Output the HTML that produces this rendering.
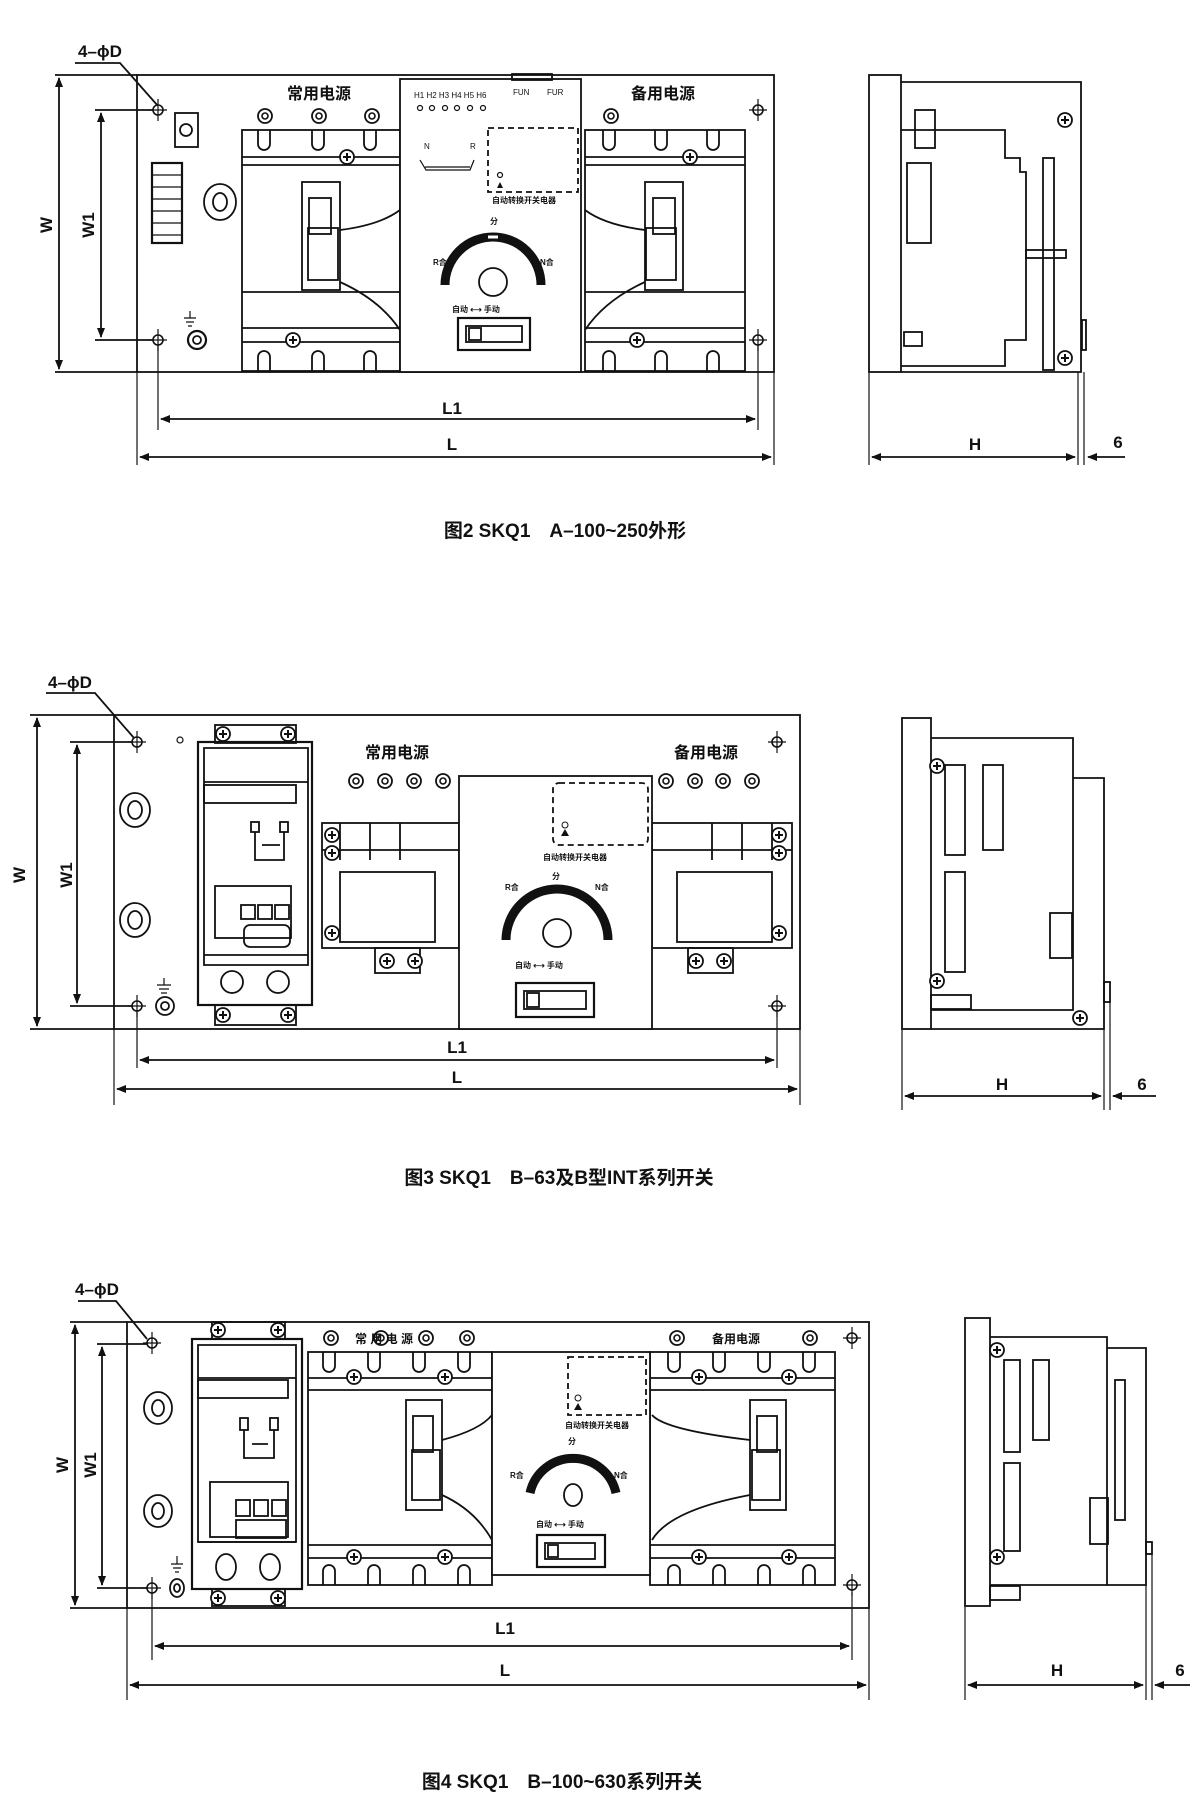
<!DOCTYPE html>
<html><head><meta charset="utf-8"><style>
html,body{margin:0;padding:0;background:#fff}
svg{display:block}
text{font-family:"Liberation Sans","Noto Sans CJK SC",sans-serif;fill:#111}
</style></head><body>
<svg width="1200" height="1794" viewBox="0 0 1200 1794" xmlns="http://www.w3.org/2000/svg">
<defs>
<marker id="a" markerWidth="10" markerHeight="8" refX="9" refY="4" orient="auto-start-reverse" markerUnits="userSpaceOnUse"><path d="M0,0 L10,4 L0,8 z" fill="#111"/></marker>
<g id="scr"><circle r="7" fill="#fff" stroke="#111" stroke-width="1.8"/><path d="M-4,0H4M0,-4V4" stroke="#111" stroke-width="2"/></g>
<g id="hole"><circle r="5" fill="#fff" stroke="#111" stroke-width="1.6"/><path d="M-9,0H9M0,-11V11" stroke="#111" stroke-width="1.2"/></g>
<g id="ring"><circle r="7" fill="#fff" stroke="#111" stroke-width="1.8"/><circle r="3" fill="none" stroke="#111" stroke-width="1.6"/></g>
</defs>
<g fill="none" stroke="#111" stroke-width="1.8">

<!-- ================= DIAGRAM 1 ================= -->
<rect x="137" y="75" width="637" height="297"/>
<line x1="55" y1="75" x2="137" y2="75"/>
<line x1="55" y1="372" x2="137" y2="372"/>
<line x1="59" y1="78" x2="59" y2="369" marker-start="url(#a)" marker-end="url(#a)"/>
<line x1="95" y1="110" x2="158" y2="110"/><line x1="95" y1="340" x2="158" y2="340"/>
<line x1="101" y1="113" x2="101" y2="337" marker-start="url(#a)" marker-end="url(#a)"/>
<path d="M75,63 H120 L158,106"/>
<line x1="137" y1="372" x2="137" y2="465" stroke-width="1.2"/>
<line x1="774" y1="372" x2="774" y2="465" stroke-width="1.2"/>
<line x1="158" y1="345" x2="158" y2="430" stroke-width="1.2"/>
<line x1="758" y1="345" x2="758" y2="430" stroke-width="1.2"/>
<line x1="161" y1="419" x2="755" y2="419" marker-start="url(#a)" marker-end="url(#a)"/>
<line x1="140" y1="457" x2="771" y2="457" marker-start="url(#a)" marker-end="url(#a)"/>
<rect x="242" y="130" width="158" height="241"/>
<rect x="585" y="130" width="160" height="241"/>
<path d="M242,157H400M242,165H400M242,292H400M242,328H400M242,342H400"/>
<path d="M585,157H745M585,165H745M585,292H745M585,328H745M585,342H745"/>
<path d="M340,230 Q380,225 400,210M340,282 Q380,300 400,330"/>
<path d="M645,230 Q605,225 585,210M645,282 Q605,300 585,330"/>
<rect x="302" y="182" width="38" height="108"/><rect x="309" y="198" width="22" height="36"/><rect x="308" y="228" width="30" height="52"/>
<rect x="645" y="182" width="38" height="108"/><rect x="653" y="198" width="22" height="36"/><rect x="646" y="228" width="30" height="52"/>
<path d="M258,130v14a6,6 0 0 0 12,0v-14M312,130v14a6,6 0 0 0 12,0v-14M364,130v14a6,6 0 0 0 12,0v-14"/>
<path d="M603,130v14a6,6 0 0 0 12,0v-14M655,130v14a6,6 0 0 0 12,0v-14M707,130v14a6,6 0 0 0 12,0v-14"/>
<path d="M258,371v-14a6,6 0 0 1 12,0v14M312,371v-14a6,6 0 0 1 12,0v14M364,371v-14a6,6 0 0 1 12,0v14"/>
<path d="M603,371v-14a6,6 0 0 1 12,0v14M655,371v-14a6,6 0 0 1 12,0v14M707,371v-14a6,6 0 0 1 12,0v14"/>
<rect x="400" y="79" width="181" height="293" fill="#fff"/>
<rect x="512" y="74" width="40" height="6"/>
<rect x="488" y="128" width="90" height="64" stroke-dasharray="6,4"/>
<path d="M420,160 L426,170 H470 L474,160M425,167 H470" stroke-width="1.2"/>
<rect x="458" y="318" width="72" height="32" stroke-width="2.2"/>
<rect x="466" y="326" width="56" height="16"/><rect x="469" y="328" width="12" height="12"/>
<circle cx="493" cy="282" r="14"/>
<path d="M445,285 A48,48 0 0 1 541,285" stroke-width="9"/>
<path d="M488,237h10" stroke="#fff" stroke-width="3"/>
<rect x="175" y="113" width="23" height="34"/><circle cx="186" cy="130" r="6"/>
<rect x="152" y="163" width="30" height="80" stroke-width="2.2"/>
<path d="M152,175H182M152,187H182M152,199H182M152,211H182M152,223H182M152,235H182" stroke-width="1.2"/>
<ellipse cx="220" cy="202" rx="16" ry="18"/><ellipse cx="220" cy="202" rx="7" ry="9"/>
<circle cx="197" cy="340" r="9" stroke-width="2.2"/><circle cx="197" cy="340" r="4"/>
<path d="M190,311V318M184,318H196M186,322H194M188,326H192" stroke-width="1.2"/>
<rect x="869" y="75" width="32" height="297"/>
<path d="M901,82 H1081 V372 H901"/>
<path d="M901,130 H1005 V158 H1020 V172 H1026 V340 H1005 V366 H901"/>
<rect x="1043" y="158" width="11" height="212"/>
<rect x="1026" y="250" width="40" height="8"/>
<rect x="915" y="110" width="20" height="38"/>
<rect x="907" y="163" width="24" height="80"/>
<rect x="904" y="332" width="18" height="14"/>
<rect x="1082" y="320" width="4" height="30"/>
<line x1="869" y1="372" x2="869" y2="465" stroke-width="1.2"/>
<line x1="1078" y1="372" x2="1078" y2="465" stroke-width="1.2"/>
<line x1="1084" y1="372" x2="1084" y2="465" stroke-width="1.2"/>
<line x1="872" y1="457" x2="1075" y2="457" marker-start="url(#a)" marker-end="url(#a)"/>
<line x1="1125" y1="457" x2="1088" y2="457" marker-end="url(#a)"/>

<!-- ================= DIAGRAM 2 ================= -->
<rect x="114" y="715" width="686" height="314"/>
<line x1="30" y1="715" x2="114" y2="715"/><line x1="30" y1="1029" x2="114" y2="1029"/>
<line x1="37" y1="718" x2="37" y2="1026" marker-start="url(#a)" marker-end="url(#a)"/>
<line x1="70" y1="742" x2="137" y2="742"/><line x1="70" y1="1006" x2="137" y2="1006"/>
<line x1="77" y1="745" x2="77" y2="1003" marker-start="url(#a)" marker-end="url(#a)"/>
<path d="M46,693 H95 L134,738"/>
<line x1="114" y1="1029" x2="114" y2="1105" stroke-width="1.2"/>
<line x1="800" y1="1029" x2="800" y2="1105" stroke-width="1.2"/>
<line x1="137" y1="1012" x2="137" y2="1068" stroke-width="1.2"/>
<line x1="777" y1="1012" x2="777" y2="1068" stroke-width="1.2"/>
<line x1="140" y1="1060" x2="774" y2="1060" marker-start="url(#a)" marker-end="url(#a)"/>
<line x1="117" y1="1089" x2="797" y2="1089" marker-start="url(#a)" marker-end="url(#a)"/>
<rect x="215" y="725" width="81" height="18"/><rect x="215" y="1005" width="81" height="20"/>
<rect x="198" y="742" width="114" height="263" stroke-width="2.2"/>
<path d="M204,748H308V965H204Z"/>
<path d="M204,782H308M204,955H308"/>
<rect x="204" y="785" width="92" height="18"/>
<rect x="215" y="886" width="76" height="52"/><rect x="241" y="905" width="14" height="14"/><rect x="258" y="905" width="14" height="14"/><rect x="275" y="905" width="14" height="14"/>
<rect x="244" y="925" width="46" height="22" rx="6"/>
<rect x="251" y="822" width="8" height="10"/><rect x="280" y="822" width="8" height="10"/>
<path d="M255,832V860H284V832M262,845h18"/>
<circle cx="232" cy="982" r="11"/><circle cx="278" cy="982" r="11"/>
<rect x="322" y="823" width="137" height="125"/>
<rect x="340" y="872" width="95" height="70"/>
<path d="M340,823V860M370,823V860M400,823V860M322,850H459"/>
<rect x="375" y="948" width="45" height="25"/>
<rect x="652" y="823" width="140" height="125"/>
<rect x="677" y="872" width="95" height="70"/>
<path d="M712,823V860M742,823V860M772,823V860M652,850H792"/>
<rect x="688" y="948" width="45" height="25"/>
<rect x="459" y="776" width="193" height="253" fill="#fff"/>
<rect x="553" y="783" width="95" height="62" rx="6" stroke-dasharray="6,4"/>
<circle cx="557" cy="933" r="14"/>
<path d="M506,940 A51,51 0 0 1 608,940" stroke-width="9"/>
<rect x="516" y="983" width="78" height="34" stroke-width="2.2"/>
<rect x="524" y="991" width="62" height="18"/><rect x="527" y="993" width="12" height="14"/>
<ellipse cx="135" cy="810" rx="15" ry="17"/><ellipse cx="135" cy="810" rx="7" ry="9"/>
<ellipse cx="135" cy="920" rx="15" ry="17"/><ellipse cx="135" cy="920" rx="7" ry="9"/>
<circle cx="165" cy="1006" r="9"/><circle cx="165" cy="1006" r="4"/>
<circle cx="180" cy="740" r="3" stroke-width="1.2"/>
<path d="M164,978V985M157,985H171M159,989H169M161,993H167" stroke-width="1.2"/>
<rect x="902" y="718" width="29" height="311"/>
<path d="M931,738H1073V1010H931"/>
<path d="M1073,778H1104V1029H931"/>
<rect x="945" y="765" width="20" height="90"/><rect x="983" y="765" width="20" height="85"/>
<rect x="945" y="872" width="20" height="100"/>
<rect x="1050" y="913" width="22" height="45"/>
<rect x="1104" y="982" width="6" height="20"/>
<rect x="931" y="995" width="40" height="14"/>
<line x1="902" y1="1029" x2="902" y2="1110" stroke-width="1.2"/>
<line x1="1104" y1="1029" x2="1104" y2="1110" stroke-width="1.2"/>
<line x1="1110" y1="1002" x2="1110" y2="1110" stroke-width="1.2"/>
<line x1="905" y1="1096" x2="1101" y2="1096" marker-start="url(#a)" marker-end="url(#a)"/>
<line x1="1156" y1="1096" x2="1113" y2="1096" marker-end="url(#a)"/>

<!-- ================= DIAGRAM 3 ================= -->
<rect x="127" y="1322" width="742" height="286"/>
<line x1="70" y1="1322" x2="127" y2="1322"/><line x1="70" y1="1608" x2="127" y2="1608"/>
<line x1="75" y1="1325" x2="75" y2="1605" marker-start="url(#a)" marker-end="url(#a)"/>
<line x1="97" y1="1344" x2="152" y2="1344"/><line x1="97" y1="1588" x2="152" y2="1588"/>
<line x1="102" y1="1347" x2="102" y2="1585" marker-start="url(#a)" marker-end="url(#a)"/>
<path d="M78,1301 H116 L147,1339"/>
<line x1="127" y1="1608" x2="127" y2="1700" stroke-width="1.2"/>
<line x1="869" y1="1608" x2="869" y2="1700" stroke-width="1.2"/>
<line x1="152" y1="1592" x2="152" y2="1660" stroke-width="1.2"/>
<line x1="852" y1="1592" x2="852" y2="1660" stroke-width="1.2"/>
<line x1="155" y1="1646" x2="849" y2="1646" marker-start="url(#a)" marker-end="url(#a)"/>
<line x1="130" y1="1685" x2="866" y2="1685" marker-start="url(#a)" marker-end="url(#a)"/>
<rect x="212" y="1322" width="73" height="17"/><rect x="212" y="1589" width="73" height="17"/>
<rect x="192" y="1339" width="110" height="250" stroke-width="2.2"/>
<path d="M198,1345H296V1542H198Z"/>
<path d="M198,1378H296M198,1542H296"/>
<rect x="198" y="1380" width="90" height="18"/>
<rect x="210" y="1482" width="78" height="55"/><rect x="236" y="1500" width="14" height="16"/><rect x="254" y="1500" width="14" height="16"/><rect x="272" y="1500" width="14" height="16"/>
<rect x="236" y="1520" width="50" height="18"/>
<rect x="240" y="1418" width="8" height="12"/><rect x="270" y="1418" width="8" height="12"/>
<path d="M244,1430V1458H274V1430M252,1444h16"/>
<ellipse cx="226" cy="1567" rx="10" ry="13"/><ellipse cx="270" cy="1567" rx="10" ry="13"/>
<rect x="308" y="1352" width="184" height="233"/>
<rect x="650" y="1352" width="185" height="233"/>
<path d="M308,1378H492M308,1390H492M308,1545H492M308,1558H492"/>
<path d="M650,1378H835M650,1390H835M650,1545H835M650,1558H835"/>
<path d="M323,1352v14a6,6 0 0 0 12,0v-14M368,1352v14a6,6 0 0 0 12,0v-14M413,1352v14a6,6 0 0 0 12,0v-14M458,1352v14a6,6 0 0 0 12,0v-14"/>
<path d="M668,1352v14a6,6 0 0 0 12,0v-14M713,1352v14a6,6 0 0 0 12,0v-14M758,1352v14a6,6 0 0 0 12,0v-14M803,1352v14a6,6 0 0 0 12,0v-14"/>
<path d="M323,1585v-14a6,6 0 0 1 12,0v14M368,1585v-14a6,6 0 0 1 12,0v14M413,1585v-14a6,6 0 0 1 12,0v14M458,1585v-14a6,6 0 0 1 12,0v14"/>
<path d="M668,1585v-14a6,6 0 0 1 12,0v14M713,1585v-14a6,6 0 0 1 12,0v14M758,1585v-14a6,6 0 0 1 12,0v14M803,1585v-14a6,6 0 0 1 12,0v14"/>
<rect x="406" y="1400" width="36" height="110"/><rect x="413" y="1416" width="20" height="36"/><rect x="412" y="1450" width="28" height="50"/>
<rect x="750" y="1400" width="36" height="110"/><rect x="757" y="1416" width="20" height="36"/><rect x="752" y="1450" width="28" height="50"/>
<path d="M442,1440 Q480,1430 492,1415M442,1495 Q475,1510 492,1540"/>
<path d="M750,1440 Q665,1430 652,1415M750,1495 Q670,1510 652,1540"/>
<rect x="492" y="1352" width="158" height="223" fill="#fff"/>
<rect x="568" y="1357" width="78" height="58" stroke-dasharray="6,4"/>
<ellipse cx="573" cy="1495" rx="9" ry="11"/>
<path d="M530,1493 A44,44 0 0 1 616,1493" stroke-width="9"/>
<rect x="537" y="1535" width="68" height="32" stroke-width="2.2"/>
<rect x="545" y="1543" width="50" height="16"/><rect x="548" y="1545" width="10" height="12"/>
<ellipse cx="158" cy="1408" rx="14" ry="16"/><ellipse cx="158" cy="1408" rx="6" ry="8"/>
<ellipse cx="158" cy="1511" rx="14" ry="16"/><ellipse cx="158" cy="1511" rx="6" ry="8"/>
<ellipse cx="177" cy="1588" rx="7" ry="9"/><ellipse cx="177" cy="1588" rx="3" ry="4"/>
<path d="M177,1556V1564M171,1564H183M173,1568H181M175,1572H179" stroke-width="1.2"/>
<rect x="965" y="1318" width="25" height="288"/>
<path d="M990,1337H1107V1585H990"/>
<path d="M1107,1348H1146V1585H1107"/>
<rect x="1004" y="1360" width="16" height="92"/><rect x="1033" y="1360" width="16" height="80"/>
<rect x="1004" y="1463" width="16" height="88"/>
<rect x="1090" y="1498" width="18" height="46"/>
<rect x="1115" y="1380" width="10" height="140"/>
<rect x="1146" y="1542" width="6" height="12"/>
<rect x="990" y="1586" width="30" height="14"/>
<line x1="965" y1="1606" x2="965" y2="1700" stroke-width="1.2"/>
<line x1="1146" y1="1585" x2="1146" y2="1700" stroke-width="1.2"/>
<line x1="1152" y1="1554" x2="1152" y2="1700" stroke-width="1.2"/>
<line x1="968" y1="1685" x2="1143" y2="1685" marker-start="url(#a)" marker-end="url(#a)"/>
<line x1="1190" y1="1685" x2="1155" y2="1685" marker-end="url(#a)"/>
</g>

<use href="#hole" x="158" y="110"/><use href="#hole" x="158" y="340"/><use href="#hole" x="758" y="110"/><use href="#hole" x="758" y="340"/>
<use href="#ring" x="265" y="116"/><use href="#ring" x="319" y="116"/><use href="#ring" x="372" y="116"/><use href="#ring" x="611" y="116"/>
<use href="#scr" x="347" y="157"/><use href="#scr" x="690" y="157"/><use href="#scr" x="293" y="340"/><use href="#scr" x="637" y="340"/>
<use href="#scr" x="1065" y="120"/><use href="#scr" x="1065" y="358"/>

<use href="#hole" x="137" y="742"/><use href="#hole" x="137" y="1006"/><use href="#hole" x="777" y="742"/><use href="#hole" x="777" y="1006"/>
<use href="#ring" x="356" y="781"/><use href="#ring" x="385" y="781"/><use href="#ring" x="414" y="781"/><use href="#ring" x="443" y="781"/>
<use href="#ring" x="666" y="781"/><use href="#ring" x="695" y="781"/><use href="#ring" x="723" y="781"/><use href="#ring" x="752" y="781"/>
<use href="#scr" x="332" y="835"/><use href="#scr" x="332" y="853"/><use href="#scr" x="332" y="933"/>
<use href="#scr" x="779" y="835"/><use href="#scr" x="779" y="853"/><use href="#scr" x="779" y="933"/>
<use href="#scr" x="387" y="961"/><use href="#scr" x="415" y="961"/><use href="#scr" x="696" y="961"/><use href="#scr" x="724" y="961"/>
<use href="#scr" x="223" y="734"/><use href="#scr" x="288" y="734"/><use href="#scr" x="223" y="1015"/><use href="#scr" x="288" y="1015"/>
<use href="#scr" x="937" y="766"/><use href="#scr" x="937" y="981"/><use href="#scr" x="1080" y="1018"/>

<use href="#hole" x="152" y="1343"/><use href="#hole" x="152" y="1588"/><use href="#hole" x="852" y="1338"/><use href="#hole" x="852" y="1585"/>
<use href="#ring" x="331" y="1338"/><use href="#ring" x="381" y="1338"/><use href="#ring" x="426" y="1338"/><use href="#ring" x="467" y="1338"/><use href="#ring" x="677" y="1338"/><use href="#ring" x="810" y="1338"/>
<use href="#scr" x="218" y="1330"/><use href="#scr" x="278" y="1330"/><use href="#scr" x="218" y="1598"/><use href="#scr" x="278" y="1598"/>
<use href="#scr" x="354" y="1377"/><use href="#scr" x="445" y="1377"/><use href="#scr" x="699" y="1377"/><use href="#scr" x="789" y="1377"/>
<use href="#scr" x="354" y="1557"/><use href="#scr" x="445" y="1557"/><use href="#scr" x="699" y="1557"/><use href="#scr" x="789" y="1557"/>
<use href="#scr" x="997" y="1350"/><use href="#scr" x="997" y="1557"/>

<g font-size="17" font-weight="bold">
<text x="78" y="57">4–ϕD</text>
<text x="52" y="225" transform="rotate(-90 52 225)" text-anchor="middle">W</text>
<text x="94" y="225" transform="rotate(-90 94 225)" text-anchor="middle">W1</text>
<text x="452" y="414" text-anchor="middle">L1</text>
<text x="452" y="450" text-anchor="middle">L</text>
<text x="975" y="450" text-anchor="middle">H</text>
<text x="1118" y="448" text-anchor="middle">6</text>
</g>
<g font-size="16" font-weight="bold">
<text x="319" y="99" text-anchor="middle">常用电源</text>
<text x="663" y="99" text-anchor="middle">备用电源</text>
<text x="565" y="537" text-anchor="middle" font-size="19">图2 SKQ1　A–100~250外形</text>
</g>
<g font-size="8">
<text x="414" y="98">H1 H2 H3 H4 H5 H6</text><text x="513" y="95">FUN</text><text x="547" y="95">FUR</text>
<text x="424" y="149">N</text><text x="470" y="149">R</text>
<text x="492" y="203" font-weight="bold">自动转换开关电器</text>
<text x="490" y="224" font-weight="bold">分</text>
<text x="433" y="265" font-weight="bold">R合</text><text x="540" y="265" font-weight="bold">N合</text>
<text x="452" y="312" font-weight="bold">自动 ⟷ 手动</text>
</g>
<g fill="none" stroke="#111" stroke-width="1.2"><circle cx="420" cy="108" r="2.5"/><circle cx="432" cy="108" r="2.5"/><circle cx="445" cy="108" r="2.5"/><circle cx="457" cy="108" r="2.5"/><circle cx="470" cy="108" r="2.5"/><circle cx="483" cy="108" r="2.5"/><circle cx="500" cy="175" r="2.5"/></g>
<path d="M497,188 l3,-6 l3,6z" fill="#111"/>

<g font-size="17" font-weight="bold">
<text x="48" y="688">4–ϕD</text>
<text x="25" y="875" transform="rotate(-90 25 875)" text-anchor="middle">W</text>
<text x="72" y="875" transform="rotate(-90 72 875)" text-anchor="middle">W1</text>
<text x="457" y="1053" text-anchor="middle">L1</text>
<text x="457" y="1083" text-anchor="middle">L</text>
<text x="1002" y="1090" text-anchor="middle">H</text>
<text x="1142" y="1090" text-anchor="middle">6</text>
</g>
<g font-size="16" font-weight="bold">
<text x="397" y="758" text-anchor="middle">常用电源</text>
<text x="706" y="758" text-anchor="middle">备用电源</text>
<text x="559" y="1184" text-anchor="middle" font-size="19">图3 SKQ1　B–63及B型INT系列开关</text>
</g>
<g font-size="8" font-weight="bold">
<text x="543" y="860">自动转换开关电器</text>
<text x="552" y="879">分</text>
<text x="505" y="890">R合</text><text x="595" y="890">N合</text>
<text x="515" y="968">自动 ⟷ 手动</text>
</g>
<circle cx="565" cy="825" r="3" fill="none" stroke="#111"/><path d="M561,836 l4,-7 l4,7z" fill="#111"/>

<g font-size="17" font-weight="bold">
<text x="75" y="1295">4–ϕD</text>
<text x="68" y="1465" transform="rotate(-90 68 1465)" text-anchor="middle">W</text>
<text x="96" y="1465" transform="rotate(-90 96 1465)" text-anchor="middle">W1</text>
<text x="505" y="1634" text-anchor="middle">L1</text>
<text x="505" y="1676" text-anchor="middle">L</text>
<text x="1057" y="1676" text-anchor="middle">H</text>
<text x="1180" y="1676" text-anchor="middle">6</text>
</g>
<g font-size="12" font-weight="bold">
<text x="355" y="1343">常 用 电 源</text>
<text x="712" y="1343">备用电源</text>
</g>
<text x="562" y="1788" text-anchor="middle" font-size="19" font-weight="bold">图4 SKQ1　B–100~630系列开关</text>
<g font-size="8" font-weight="bold">
<text x="565" y="1428">自动转换开关电器</text>
<text x="568" y="1444">分</text>
<text x="510" y="1478">R合</text><text x="614" y="1478">N合</text>
<text x="536" y="1527">自动 ⟷ 手动</text>
</g>
<circle cx="578" cy="1398" r="3" fill="none" stroke="#111"/><path d="M574,1410 l4,-7 l4,7z" fill="#111"/>
</svg>
</body></html>
